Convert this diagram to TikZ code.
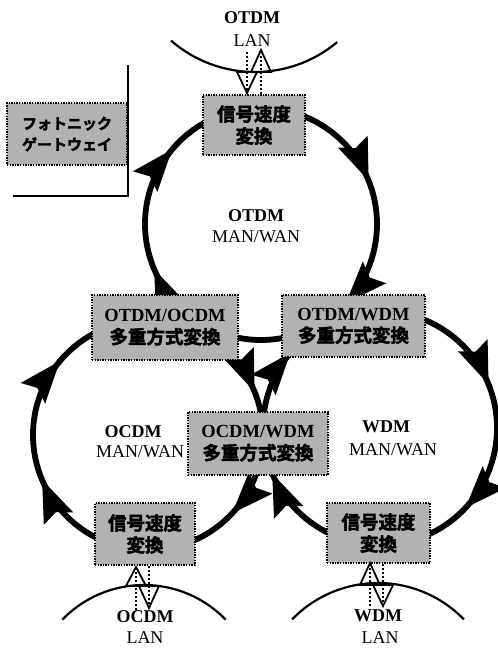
\documentclass[tikz,border=0pt]{standalone}
\usepackage{fontspec}
\setmainfont{Liberation Serif}
\newfontfamily\lat{Liberation Serif}
\newfontfamily\cjk{Noto Sans CJK JP}[BoldFont={Noto Sans CJK JP Bold},BoldFeatures={FakeBold=2.5}]
\usetikzlibrary{arrows.meta,decorations.markings}
\def\myringtip{\fill (0pt,0pt) -- (-42pt,16pt) -- (-35pt,0pt) -- (-42pt,-16pt) -- cycle;}
\tikzset{
  ring/.style={line width=5.8pt, postaction={decorate},
    decoration={markings,
      mark=at position 0.1194 with {\myringtip},
      mark=at position 0.4361 with {\myringtip},
      mark=at position 0.6111 with {\myringtip},
      mark=at position 0.9389 with {\myringtip}}},
  gw/.style={draw=black, fill=black!30, line width=1.7pt, dash pattern=on 1.4pt off 1.2pt,
    align=center, inner sep=0pt, font=\cjk\bfseries\fontsize{18.5}{22}\selectfont},
  legendbox/.style={gw, font=\cjk\bfseries\fontsize{15}{21}\selectfont},
  bigbold/.style={font=\lat\bfseries\fontsize{18}{20}\selectfont, inner sep=0pt},
  plain/.style={font=\lat\fontsize{18}{20}\selectfont, inner sep=0pt},
  lanarc/.style={line width=2.2pt},
  lantri/.style={line width=1.8pt, line join=miter},
  lanshaft/.style={line width=2.4pt, dash pattern=on 2pt off 2pt},
  legendline/.style={line width=1.2pt},
}
\begin{document}
\begin{tikzpicture}[x=1pt,y=-1pt]
\useasboundingbox (0,0) rectangle (498,648);
% ring centres
\coordinate (cT) at (261,224);
\coordinate (cL) at (148,435);
\coordinate (cR) at (380,428);
% rings (clockwise)
\draw[ring] (cT) ++(0:116) arc[start angle=0, end angle=360, radius=116];
\draw[ring] (cL) ++(0:115) arc[start angle=0, end angle=360, radius=115];
\draw[ring] (cR) ++(0:117) arc[start angle=0, end angle=360, radius=117];
% legend
\coordinate (legTop) at (128,65);
\coordinate (legCorner) at (128,196);
\coordinate (legEnd) at (13,196);
\draw[legendline] (legTop) -- (legCorner) -- (legEnd);
% gateways
\node[gw, minimum width=102pt, minimum height=60pt] (gTop) at (254,125) {信号速度\\変換};
\node[gw, minimum width=146pt, minimum height=65pt] (gTL) at (165,327.5) {{\lat OTDM/OCDM}\\多重方式変換};
\node[gw, minimum width=143pt, minimum height=62pt] (gTR) at (353.5,326) {{\lat OTDM/WDM}\\多重方式変換};
\node[gw, minimum width=140pt, minimum height=63pt] (gC) at (258,443.5) {{\lat OCDM/WDM}\\多重方式変換};
\node[gw, minimum width=100pt, minimum height=62pt] (gBL) at (145,534) {信号速度\\変換};
\node[gw, minimum width=103pt, minimum height=60pt] (gBR) at (378.5,533) {信号速度\\変換};
\node[legendbox, minimum width=120pt, minimum height=62pt] (leg) at (67,134) {フォトニック\\ゲートウェイ};
% LAN arcs
\coordinate (aT) at (255,-56);
\coordinate (aL) at (144,698.6);
\coordinate (aR) at (378,702.5);
\draw[lanarc] (aT) ++(131:128) arc[start angle=131, end angle=50, radius=128];
\draw[lanarc] (aL) ++(224:113.6) arc[start angle=224, end angle=316, radius=113.6];
\draw[lanarc] (aR) ++(224:119.5) arc[start angle=224, end angle=316, radius=119.5];
% LAN access arrows: top
\coordinate (tDin) at (247,52);
\coordinate (tUout) at (261,50);
\draw[lanshaft] (tDin) -- (tDin |- gTop.north);
\draw[lanshaft] (tUout |- gTop.north) -- ++(0,-40);
\draw[lantri] (237,72) -- (257,72) -- (247,93) -- cycle;
\draw[lantri] (251,72) -- (271,72) -- (tUout) -- cycle;
% bottom left
\coordinate (blUtip) at (136,567);
\coordinate (blDtip) at (149,608);
\draw[lanshaft] (136,610) -- (136,571);
\draw[lanshaft] (blDtip |- gBL.south) -- (149,605);
\draw[lantri] (126,586) -- (146,586) -- (blUtip) -- cycle;
\draw[lantri] (139,586) -- (159,586) -- (blDtip) -- cycle;
% bottom right
\coordinate (brUtip) at (370,563);
\coordinate (brDtip) at (383,606);
\draw[lanshaft] (370,606) -- (370,567);
\draw[lanshaft] (brDtip |- gBR.south) -- (383,603);
\draw[lantri] (360,585) -- (380,585) -- (brUtip) -- cycle;
\draw[lantri] (373,585) -- (393,585) -- (brDtip) -- cycle;
% labels
\node[bigbold] (tOTDM) at (252,18) {OTDM};
\node[plain] (tLAN) at (252,41) {LAN};
\node[bigbold] (rT1) at (256,216) {OTDM};
\node[plain] (rT2) at (256,237) {MAN/WAN};
\node[bigbold] (rL1) at (133,432) {OCDM};
\node[plain] (rL2) at (140,452) {MAN/WAN};
\node[bigbold] (rR1) at (386,427) {WDM};
\node[plain] (rR2) at (393,450) {MAN/WAN};
\node[bigbold] (bL1) at (145,617) {OCDM};
\node[plain] (bL2) at (145,638) {LAN};
\node[bigbold] (bR1) at (378,616) {WDM};
\node[plain] (bR2) at (380,638) {LAN};
\end{tikzpicture}
\end{document}
